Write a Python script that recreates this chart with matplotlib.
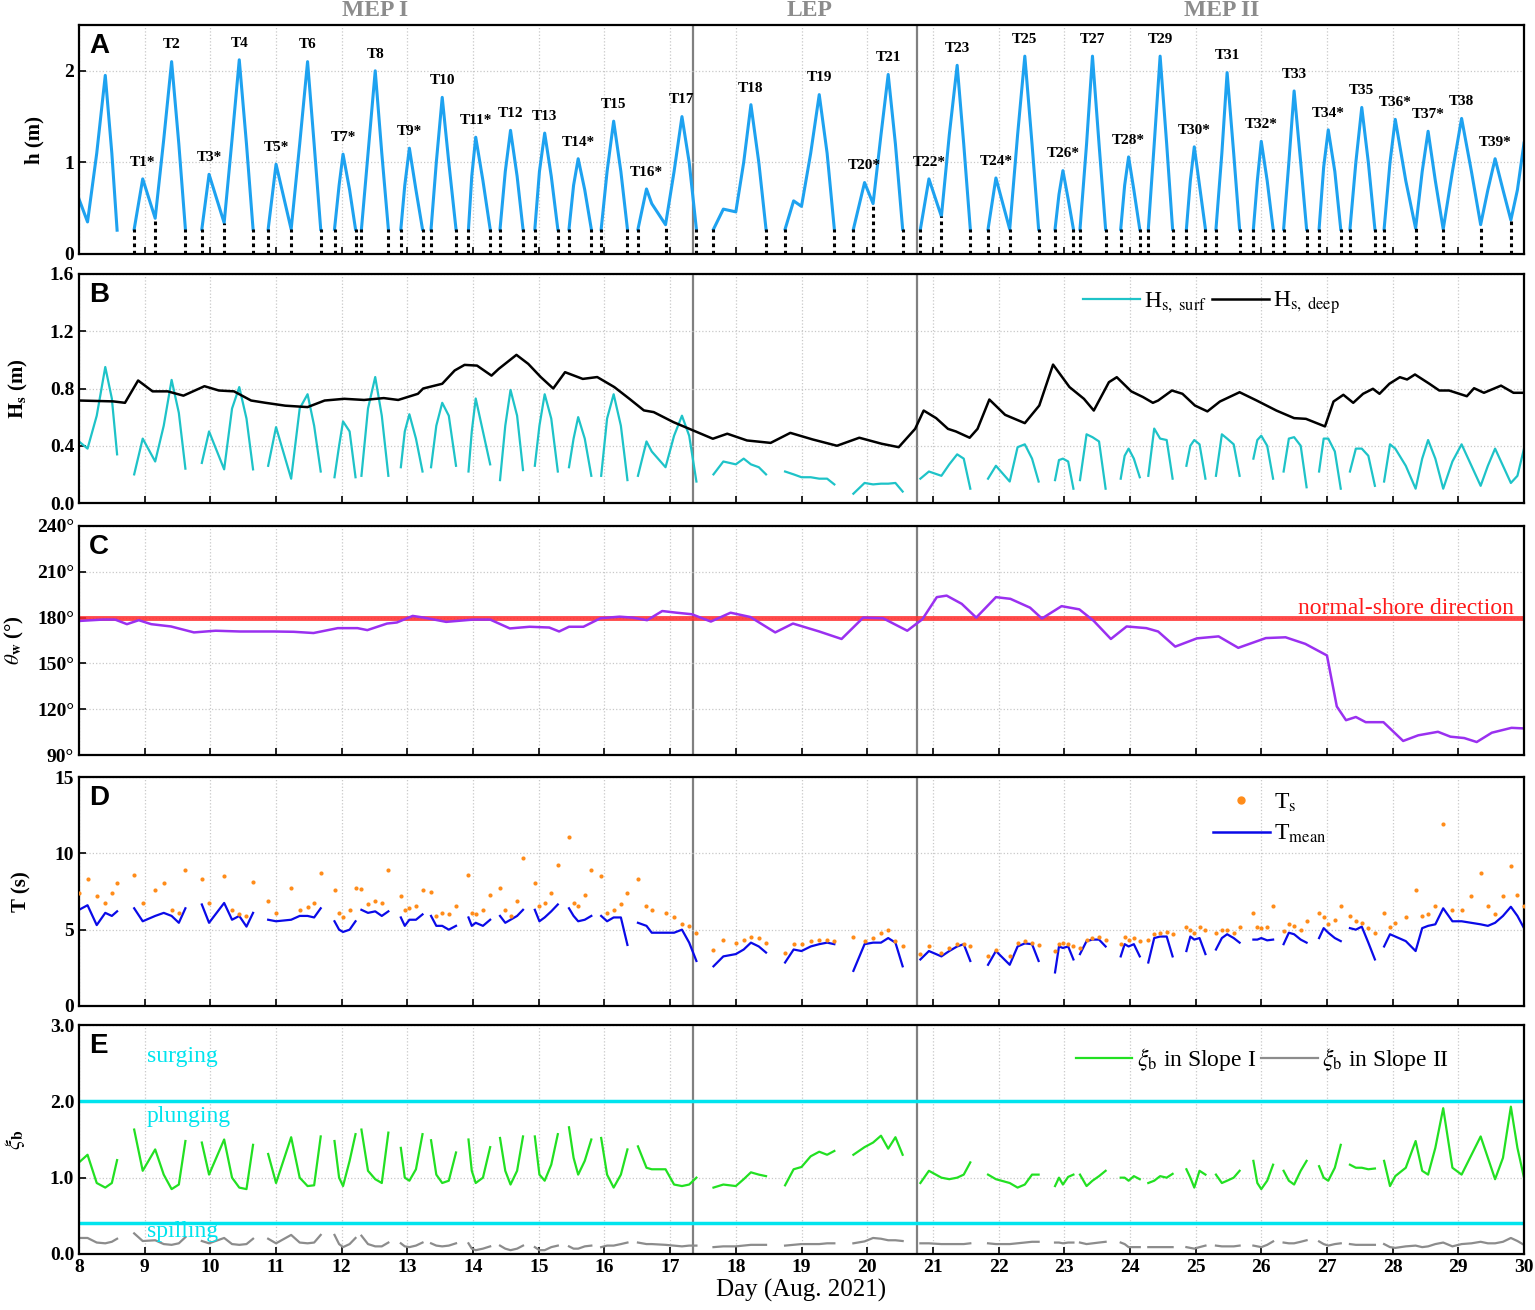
import numpy as np
import matplotlib
matplotlib.use('Agg')
import matplotlib.pyplot as plt
from matplotlib.lines import Line2D

plt.rcParams['font.family'] = ['Liberation Serif', 'DejaVu Serif']
plt.rcParams['mathtext.fontset'] = 'stix'

# ---- data (one inner list per submerged window) ----
win_t = [
    [8.00, 8.13, 8.27, 8.40, 8.50, 8.58],
    [8.84, 8.97, 9.16, 9.29, 9.41, 9.52, 9.62],
    [9.87, 9.98, 10.21, 10.33, 10.44, 10.55, 10.65],
    [10.88, 11.00, 11.23, 11.36, 11.48, 11.58, 11.68],
    [11.89, 11.96, 12.02, 12.12, 12.21],
    [12.30, 12.40, 12.51, 12.61, 12.71],
    [12.90, 12.96, 13.03, 13.13, 13.23],
    [13.36, 13.44, 13.53, 13.63, 13.74],
    [13.93, 13.98, 14.04, 14.15, 14.26],
    [14.41, 14.49, 14.57, 14.67, 14.76],
    [14.94, 15.01, 15.09, 15.19, 15.29],
    [15.46, 15.53, 15.60, 15.70, 15.80],
    [15.95, 16.04, 16.14, 16.25, 16.35],
    [16.51, 16.64, 16.72, 16.93, 17.06, 17.18, 17.29, 17.40],
    [17.66, 17.81, 18.00, 18.12, 18.23, 18.35, 18.46],
    [18.75, 18.88, 19.00, 19.14, 19.27, 19.39, 19.50],
    [19.79, 19.96, 20.09, 20.21, 20.32, 20.43, 20.54],
    [20.81, 20.94, 21.13, 21.25, 21.37, 21.47, 21.57],
    [21.84, 21.96, 22.17, 22.29, 22.40, 22.51, 22.61],
    [22.86, 22.92, 22.98, 23.06, 23.14],
    [23.24, 23.34, 23.43, 23.53, 23.63],
    [23.86, 23.92, 23.98, 24.06, 24.15],
    [24.28, 24.37, 24.46, 24.56, 24.65],
    [24.86, 24.92, 24.98, 25.06, 25.15],
    [25.31, 25.40, 25.48, 25.58, 25.67],
    [25.88, 25.94, 26.00, 26.09, 26.18],
    [26.34, 26.42, 26.50, 26.60, 26.69],
    [26.88, 26.95, 27.02, 27.12, 27.21],
    [27.35, 27.44, 27.53, 27.63, 27.73],
    [27.87, 27.96, 28.04, 28.20, 28.35, 28.45, 28.54, 28.65, 28.77, 28.91,
     29.05, 29.20, 29.34, 29.45, 29.56, 29.68, 29.80, 29.90, 30.00],
]

# water depth h (m)
win_h = [
    [0.60, 0.35, 1.10, 1.95, 1.10, 0.26],
    [0.27, 0.82, 0.39, 1.25, 2.10, 1.20, 0.27],
    [0.27, 0.87, 0.34, 1.25, 2.12, 1.20, 0.27],
    [0.27, 0.98, 0.27, 1.20, 2.10, 1.20, 0.27],
    [0.27, 0.75, 1.09, 0.70, 0.27],
    [0.27, 1.10, 2.00, 1.10, 0.27],
    [0.27, 0.75, 1.155, 0.70, 0.27],
    [0.27, 1.00, 1.71, 1.00, 0.27],
    [0.27, 0.85, 1.275, 0.80, 0.27],
    [0.27, 0.90, 1.35, 0.85, 0.27],
    [0.27, 0.90, 1.32, 0.85, 0.27],
    [0.27, 0.75, 1.04, 0.70, 0.27],
    [0.27, 0.90, 1.45, 0.90, 0.27],
    [0.27, 0.71, 0.55, 0.32, 0.90, 1.50, 1.00, 0.27],
    [0.27, 0.49, 0.46, 1.00, 1.63, 1.00, 0.27],
    [0.27, 0.58, 0.52, 1.10, 1.74, 1.10, 0.27],
    [0.27, 0.78, 0.55, 1.30, 1.96, 1.20, 0.27],
    [0.27, 0.82, 0.41, 1.30, 2.06, 1.20, 0.27],
    [0.27, 0.83, 0.27, 1.30, 2.16, 1.20, 0.27],
    [0.27, 0.65, 0.91, 0.60, 0.27],
    [0.27, 1.20, 2.16, 1.20, 0.27],
    [0.27, 0.75, 1.06, 0.70, 0.27],
    [0.27, 1.20, 2.16, 1.20, 0.27],
    [0.27, 0.80, 1.17, 0.75, 0.27],
    [0.27, 1.10, 1.98, 1.10, 0.27],
    [0.27, 0.80, 1.23, 0.80, 0.27],
    [0.27, 1.00, 1.78, 1.00, 0.27],
    [0.27, 0.95, 1.355, 0.90, 0.27],
    [0.27, 1.00, 1.60, 1.00, 0.27],
    [0.27, 1.00, 1.47, 0.80, 0.28, 0.90, 1.34, 0.80, 0.27, 0.90,
     1.48, 0.90, 0.32, 0.70, 1.04, 0.70, 0.37, 0.70, 1.21],
]

# Hs in the surf zone (m)
win_hs = [
    [0.43, 0.38, 0.61, 0.95, 0.73, 0.34],
    [0.20, 0.45, 0.29, 0.54, 0.86, 0.63, 0.24],
    [0.28, 0.50, 0.235, 0.66, 0.81, 0.59, 0.235],
    [0.26, 0.53, 0.17, 0.66, 0.76, 0.54, 0.22],
    [0.18, 0.40, 0.57, 0.50, 0.18],
    [0.19, 0.66, 0.88, 0.61, 0.19],
    [0.25, 0.50, 0.62, 0.45, 0.22],
    [0.25, 0.54, 0.70, 0.61, 0.26],
    [0.22, 0.50, 0.73, 0.50, 0.27],
    [0.16, 0.54, 0.79, 0.61, 0.23],
    [0.26, 0.54, 0.76, 0.59, 0.22],
    [0.25, 0.45, 0.60, 0.45, 0.19],
    [0.19, 0.59, 0.76, 0.54, 0.16],
    [0.19, 0.43, 0.36, 0.25, 0.47, 0.61, 0.47, 0.15],
    [0.20, 0.29, 0.27, 0.31, 0.27, 0.25, 0.20],
    [0.22, 0.20, 0.18, 0.18, 0.17, 0.17, 0.13],
    [0.065, 0.14, 0.13, 0.135, 0.135, 0.14, 0.08],
    [0.17, 0.22, 0.19, 0.27, 0.34, 0.31, 0.10],
    [0.17, 0.26, 0.15, 0.39, 0.41, 0.31, 0.15],
    [0.16, 0.30, 0.31, 0.29, 0.10],
    [0.16, 0.48, 0.46, 0.43, 0.10],
    [0.17, 0.33, 0.38, 0.31, 0.18],
    [0.19, 0.52, 0.45, 0.44, 0.17],
    [0.26, 0.40, 0.44, 0.41, 0.17],
    [0.19, 0.48, 0.45, 0.41, 0.19],
    [0.31, 0.44, 0.47, 0.40, 0.17],
    [0.22, 0.45, 0.46, 0.40, 0.11],
    [0.22, 0.45, 0.45, 0.36, 0.10],
    [0.22, 0.38, 0.38, 0.33, 0.12],
    [0.15, 0.41, 0.38, 0.26, 0.10, 0.31, 0.44, 0.31, 0.10, 0.29,
     0.41, 0.26, 0.12, 0.26, 0.38, 0.26, 0.14, 0.19, 0.38],
]

# mean wave period (s)
win_tmean = [
    [6.3, 6.6, 5.3, 6.1, 5.9, 6.2],
    [6.4, 5.55, 5.9, 6.1, 5.9, 5.45, 6.4],
    [6.65, 5.45, 6.75, 5.65, 5.9, 5.2, 6.1],
    [5.65, 5.55, 5.65, 5.9, 5.9, 5.8, 6.4],
    [5.55, 5.0, 4.85, 5.0, 5.55],
    [6.3, 6.1, 6.2, 5.9, 6.2],
    [5.8, 5.25, 5.65, 5.65, 6.0],
    [5.9, 5.25, 5.25, 5.0, 5.25],
    [5.8, 5.25, 5.45, 5.25, 5.65],
    [5.9, 5.45, 5.65, 5.9, 6.3],
    [6.3, 5.55, 5.8, 6.2, 6.65],
    [6.4, 5.9, 5.55, 5.65, 5.9],
    [5.9, 5.55, 5.8, 5.8, 4.0],
    [5.45, 5.25, 4.8, 4.8, 4.8, 5.0, 4.15, 2.95],
    [2.6, 3.25, 3.4, 3.7, 4.15, 3.9, 3.5],
    [2.85, 3.7, 3.6, 3.9, 4.05, 4.15, 4.05],
    [2.3, 4.05, 4.15, 4.15, 4.45, 4.15, 2.6],
    [3.05, 3.6, 3.25, 3.6, 3.9, 4.05, 2.95],
    [2.7, 3.6, 2.7, 3.9, 4.1, 4.05, 2.95],
    [2.2, 3.9, 3.8, 3.9, 3.05],
    [3.4, 4.25, 4.35, 4.35, 3.9],
    [3.25, 4.05, 3.9, 4.05, 3.25],
    [2.85, 4.45, 4.55, 4.55, 3.25],
    [3.6, 4.55, 4.35, 4.45, 3.4],
    [3.7, 4.45, 4.7, 4.45, 4.15],
    [4.35, 4.35, 4.45, 4.3, 4.35],
    [4.05, 4.8, 4.7, 4.35, 4.15],
    [4.45, 5.1, 4.8, 4.45, 4.25],
    [5.1, 5.0, 5.2, 4.15, 3.05],
    [3.9, 4.7, 4.55, 4.25, 3.6, 5.1, 5.25, 5.35, 6.4, 5.55,
     5.55, 5.45, 5.35, 5.25, 5.45, 5.9, 6.5, 5.9, 5.1],
]

# significant wave period (s)
win_ts = [
    [7.4, 8.3, 7.2, 6.75, 7.4, 8.05],
    [8.55, 6.75, 7.6, 8.05, 6.3, 6.1, 8.9],
    [8.3, 6.75, 8.5, 6.3, 6.0, 5.9, 8.15],
    [6.85, 6.1, 7.7, 6.3, 6.5, 6.75, 8.7],
    [7.6, 6.1, 5.8, 6.3, 7.7],
    [7.65, 6.65, 6.85, 6.75, 8.9],
    [7.2, 6.3, 6.4, 6.55, 7.6],
    [7.5, 5.9, 6.1, 6.0, 6.55],
    [8.6, 6.1, 6.0, 6.3, 7.3],
    [7.7, 6.3, 5.9, 6.85, 9.7],
    [8.05, 6.55, 6.75, 7.4, 9.25],
    [11.1, 6.75, 6.55, 7.3, 8.9],
    [8.5, 6.1, 6.3, 6.65, 7.4],
    [8.3, 6.55, 6.3, 6.1, 5.8, 5.35, 5.25, 4.8],
    [3.7, 4.3, 4.15, 4.35, 4.55, 4.45, 4.15],
    [3.45, 4.05, 4.05, 4.25, 4.3, 4.35, 4.25],
    [4.55, 4.25, 4.45, 4.8, 5.0, 4.25, 3.9],
    [3.4, 3.9, 3.5, 3.8, 4.05, 4.05, 3.9],
    [3.25, 3.7, 3.25, 4.15, 4.25, 4.15, 4.0],
    [3.6, 4.05, 4.15, 4.05, 3.9],
    [3.8, 4.35, 4.45, 4.5, 4.35],
    [4.05, 4.55, 4.35, 4.45, 4.25],
    [4.35, 4.7, 4.8, 4.85, 4.7],
    [5.2, 5.0, 4.8, 5.2, 5.0],
    [4.8, 5.0, 4.95, 4.8, 5.2],
    [6.1, 5.2, 5.1, 5.2, 6.55],
    [4.9, 5.35, 5.25, 5.0, 5.55],
    [6.1, 5.8, 5.35, 5.65, 6.55],
    [5.9, 5.55, 5.45, 5.1, 4.8],
    [6.1, 5.2, 5.45, 5.8, 7.6, 5.9, 6.0, 6.55, 11.9, 6.3,
     6.3, 7.2, 8.7, 6.55, 6.0, 7.2, 9.15, 7.3, 6.55],
]

# surf similarity parameter, slope I and slope II
win_xi1 = [
    [1.20, 1.30, 0.93, 0.87, 0.93, 1.23],
    [1.63, 1.09, 1.37, 1.04, 0.85, 0.91, 1.48],
    [1.46, 1.04, 1.50, 1.00, 0.87, 0.85, 1.43],
    [1.31, 0.93, 1.53, 1.00, 0.89, 0.90, 1.54],
    [1.48, 1.00, 0.89, 1.22, 1.57],
    [1.63, 1.09, 0.98, 0.93, 1.59],
    [1.39, 1.00, 0.96, 1.11, 1.57],
    [1.49, 1.04, 0.93, 0.96, 1.33],
    [1.50, 1.09, 0.93, 1.00, 1.40],
    [1.52, 1.09, 0.91, 1.09, 1.54],
    [1.54, 1.04, 0.96, 1.17, 1.57],
    [1.66, 1.26, 1.04, 1.22, 1.50],
    [1.52, 1.04, 0.87, 1.04, 1.37],
    [1.41, 1.13, 1.11, 1.11, 0.91, 0.89, 0.91, 1.00],
    [0.87, 0.91, 0.89, 0.98, 1.07, 1.04, 1.02],
    [0.90, 1.11, 1.14, 1.28, 1.34, 1.30, 1.35],
    [1.30, 1.40, 1.46, 1.55, 1.38, 1.53, 1.30],
    [0.93, 1.09, 1.00, 0.98, 1.00, 1.04, 1.20],
    [1.04, 0.98, 0.93, 0.87, 0.91, 1.04, 1.04],
    [0.89, 1.00, 0.91, 1.01, 1.04],
    [1.04, 0.89, 0.96, 1.02, 1.09],
    [1.00, 1.00, 0.96, 1.02, 0.98],
    [0.93, 0.96, 1.02, 1.00, 1.05],
    [1.11, 1.00, 0.87, 1.09, 1.04],
    [1.04, 0.93, 0.96, 1.00, 1.09],
    [1.22, 0.93, 0.85, 0.96, 1.17],
    [1.09, 0.96, 0.91, 1.09, 1.22],
    [1.15, 1.00, 0.96, 1.13, 1.43],
    [1.17, 1.13, 1.13, 1.11, 1.12],
    [1.22, 0.89, 1.02, 1.13, 1.48, 1.09, 1.04, 1.39, 1.91, 1.13,
     1.04, 1.30, 1.54, 1.26, 0.98, 1.26, 1.93, 1.39, 1.00],
]

win_xi2 = [
    [0.21, 0.21, 0.15, 0.14, 0.16, 0.20],
    [0.27, 0.17, 0.18, 0.13, 0.12, 0.14, 0.22],
    [0.17, 0.14, 0.21, 0.13, 0.12, 0.13, 0.20],
    [0.20, 0.14, 0.25, 0.15, 0.14, 0.15, 0.25],
    [0.25, 0.13, 0.09, 0.13, 0.21],
    [0.24, 0.13, 0.10, 0.10, 0.15],
    [0.14, 0.10, 0.09, 0.11, 0.15],
    [0.14, 0.11, 0.10, 0.11, 0.14],
    [0.14, 0.07, 0.05, 0.07, 0.10],
    [0.11, 0.07, 0.05, 0.07, 0.11],
    [0.09, 0.05, 0.05, 0.09, 0.11],
    [0.10, 0.07, 0.07, 0.10, 0.11],
    [0.09, 0.11, 0.11, 0.13, 0.15],
    [0.15, 0.13, 0.13, 0.12, 0.11, 0.10, 0.11, 0.11],
    [0.09, 0.10, 0.10, 0.11, 0.12, 0.12, 0.12],
    [0.11, 0.12, 0.13, 0.13, 0.13, 0.14, 0.14],
    [0.14, 0.165, 0.21, 0.20, 0.18, 0.18, 0.17],
    [0.14, 0.14, 0.13, 0.13, 0.13, 0.13, 0.14],
    [0.14, 0.13, 0.13, 0.14, 0.15, 0.16, 0.16],
    [0.15, 0.15, 0.14, 0.15, 0.15],
    [0.15, 0.13, 0.14, 0.15, 0.16],
    [0.15, 0.13, 0.09, 0.09, 0.09],
    [0.09, 0.09, 0.09, 0.09, 0.09],
    [0.09, 0.08, 0.07, 0.09, 0.11],
    [0.11, 0.10, 0.10, 0.10, 0.11],
    [0.11, 0.10, 0.09, 0.12, 0.165],
    [0.15, 0.14, 0.14, 0.16, 0.18],
    [0.165, 0.13, 0.11, 0.13, 0.14],
    [0.13, 0.12, 0.12, 0.12, 0.12],
    [0.13, 0.09, 0.08, 0.10, 0.11, 0.09, 0.10, 0.13, 0.15, 0.10,
     0.13, 0.14, 0.16, 0.14, 0.14, 0.16, 0.21, 0.17, 0.12],
]

# tide separators (dotted lines) and tide names
cut_t = [8.84, 9.16, 9.62, 9.87, 10.21, 10.65, 10.88, 11.23, 11.68, 11.89,
         12.21, 12.30, 12.71, 12.90, 13.23, 13.36, 13.74, 13.93, 14.26, 14.41,
         14.76, 14.94, 15.29, 15.46, 15.80, 15.95, 16.35, 16.51, 16.93, 17.40,
         17.66, 18.46, 18.75, 19.50, 19.79, 20.09, 20.54, 20.81, 21.13, 21.57,
         21.84, 22.17, 22.61, 22.86, 23.14, 23.24, 23.63, 23.86, 24.15, 24.28,
         24.65, 24.86, 25.15, 25.31, 25.67, 25.88, 26.18, 26.34, 26.69, 26.88,
         27.21, 27.35, 27.73, 27.87, 28.35, 28.77, 29.34, 29.80]
cut_h = [0.27, 0.39, 0.27, 0.27, 0.34, 0.27, 0.27, 0.27, 0.27, 0.27,
         0.27, 0.27, 0.27, 0.27, 0.27, 0.27, 0.27, 0.27, 0.27, 0.27,
         0.27, 0.27, 0.27, 0.27, 0.27, 0.27, 0.27, 0.27, 0.32, 0.27,
         0.27, 0.27, 0.27, 0.27, 0.27, 0.55, 0.27, 0.27, 0.41, 0.27,
         0.27, 0.27, 0.27, 0.27, 0.27, 0.27, 0.27, 0.27, 0.27, 0.27,
         0.27, 0.27, 0.27, 0.27, 0.27, 0.27, 0.27, 0.27, 0.27, 0.27,
         0.27, 0.27, 0.27, 0.27, 0.28, 0.27, 0.32, 0.37]

tide_names = ['T1*', 'T2', 'T3*', 'T4', 'T5*', 'T6', 'T7*', 'T8', 'T9*', 'T10',
              'T11*', 'T12', 'T13', 'T14*', 'T15', 'T16*', 'T17', 'T18', 'T19',
              'T20*', 'T21', 'T22*', 'T23', 'T24*', 'T25', 'T26*', 'T27', 'T28*',
              'T29', 'T30*', 'T31', 'T32*', 'T33', 'T34*', 'T35', 'T36*', 'T37*',
              'T38', 'T39*']
tide_peak_t = [8.97, 9.41, 9.98, 10.44, 11.00, 11.48, 12.02, 12.51, 13.03, 13.53,
               14.04, 14.57, 15.09, 15.60, 16.14, 16.64, 17.18, 18.23, 19.27,
               19.96, 20.32, 20.94, 21.37, 21.96, 22.40, 22.98, 23.43, 23.98,
               24.46, 24.98, 25.48, 26.00, 26.50, 27.02, 27.53, 28.04, 28.54,
               29.05, 29.56]
tide_peak_h = [0.82, 2.10, 0.87, 2.12, 0.98, 2.10, 1.09, 2.00, 1.155, 1.71,
               1.275, 1.35, 1.32, 1.04, 1.45, 0.71, 1.50, 1.63, 1.74,
               0.78, 1.96, 0.82, 2.06, 0.83, 2.16, 0.91, 2.16, 1.06,
               2.16, 1.17, 1.98, 1.23, 1.78, 1.355, 1.60, 1.47, 1.34,
               1.48, 1.04]

# offshore Hs (continuous)
deep_t = [8.00, 8.52, 8.70, 8.90, 9.12, 9.35, 9.59, 9.91, 10.13, 10.36, 10.62,
          10.84, 11.14, 11.48, 11.74, 12.04, 12.34, 12.64, 12.86, 13.16, 13.24,
          13.53, 13.72, 13.87, 14.06, 14.28, 14.39, 14.66, 14.84, 15.03, 15.22,
          15.40, 15.67, 15.89, 16.15, 16.38, 16.60, 16.75, 17.05, 17.35, 17.65,
          17.87, 18.17, 18.53, 18.83, 19.17, 19.54, 19.88, 20.22, 20.48, 20.73,
          20.86, 21.05, 21.23, 21.35, 21.56, 21.68, 21.86, 22.10, 22.40, 22.62,
          22.83, 23.08, 23.30, 23.45, 23.68, 23.80, 24.02, 24.20, 24.35, 24.43,
          24.64, 24.80, 24.99, 25.18, 25.37, 25.67, 25.93, 26.23, 26.50, 26.68,
          26.97, 27.10, 27.25, 27.40, 27.55, 27.70, 27.80, 27.95, 28.11, 28.22,
          28.34, 28.56, 28.71, 28.86, 29.13, 29.24, 29.39, 29.65, 29.84, 30.00]
deep_hs = [0.716, 0.71, 0.70, 0.856, 0.78, 0.78, 0.75, 0.816, 0.786, 0.78, 0.716,
           0.70, 0.68, 0.67, 0.716, 0.728, 0.72, 0.733, 0.72, 0.763, 0.80,
           0.833, 0.926, 0.965, 0.96, 0.89, 0.937, 1.035, 0.972, 0.88, 0.80,
           0.914, 0.867, 0.88, 0.81, 0.728, 0.647, 0.635, 0.565, 0.507, 0.449,
           0.484, 0.437, 0.42, 0.49, 0.444, 0.40, 0.456, 0.414, 0.39, 0.518,
           0.646, 0.593, 0.518, 0.50, 0.456, 0.518, 0.723, 0.616, 0.558, 0.681,
           0.967, 0.81, 0.728, 0.646, 0.844, 0.879, 0.78, 0.74, 0.70, 0.716,
           0.786, 0.763, 0.681, 0.64, 0.709, 0.774, 0.716, 0.646, 0.593, 0.588,
           0.535, 0.709, 0.756, 0.70, 0.763, 0.798, 0.763, 0.833, 0.879, 0.863,
           0.898, 0.833, 0.786, 0.786, 0.746, 0.802, 0.77, 0.82, 0.77, 0.77]

# wave direction (deg)
dir_t = [8.00, 8.36, 8.55, 8.73, 8.91, 9.10, 9.40, 9.75, 10.08, 10.45, 10.97,
         11.27, 11.57, 11.94, 12.24, 12.39, 12.69, 12.84, 13.08, 13.25, 13.59,
         14.00, 14.26, 14.56, 14.86, 15.16, 15.31, 15.46, 15.68, 15.94, 16.23,
         16.43, 16.65, 16.88, 17.10, 17.33, 17.62, 17.92, 18.22, 18.60, 18.87,
         19.27, 19.61, 19.94, 20.24, 20.61, 20.84, 21.06, 21.21, 21.44, 21.66,
         21.96, 22.18, 22.48, 22.66, 22.96, 23.23, 23.45, 23.71, 23.95, 24.25,
         24.43, 24.69, 25.02, 25.35, 25.65, 26.07, 26.37, 26.67, 27.00, 27.15,
         27.29, 27.44, 27.59, 27.86, 28.16, 28.39, 28.69, 28.88, 29.09, 29.28,
         29.51, 29.81, 30.00]
dir_deg = [177.8, 178.7, 178.7, 175.7, 178.3, 175.7, 174.2, 170.3, 171.4, 170.9,
           170.9, 170.7, 169.9, 173.1, 173.1, 171.8, 176.1, 176.8, 181.1, 180.0,
           177.2, 178.7, 178.7, 172.9, 174.0, 173.5, 170.9, 174.0, 174.0, 179.6,
           180.6, 180.0, 178.3, 184.3, 183.2, 182.2, 177.4, 183.2, 180.4, 170.3,
           176.1, 170.9, 166.0, 180.0, 179.6, 171.4, 178.9, 193.4, 194.4, 189.0,
           180.0, 193.4, 192.3, 186.5, 179.4, 187.5, 185.4, 177.8, 166.0, 174.2,
           173.1, 170.9, 161.0, 166.4, 167.7, 160.2, 166.6, 167.1, 162.8, 155.2,
           121.8, 112.8, 114.9, 111.5, 111.5, 99.2, 102.9, 105.2, 102.0, 101.1,
           98.5, 104.6, 107.8, 107.4]

phase_split = [17.35, 20.76]
phase_names = ['MEP I', 'LEP', 'MEP II']
phase_mid = [12.5, 19.13, 25.4]


def join(wins):
    out = []
    for w in wins:
        out.extend(w)
        out.append(np.nan)
    return np.array(out[:-1])


t_all = join(win_t)

fig = plt.figure(figsize=(15.35, 13.10), dpi=100)
W, H = 1535.0, 1310.0
left = 79 / W
width = (1524 - 79) / W
tops = [25, 274, 526, 777, 1025]
axes = []
for top in tops:
    axes.append(fig.add_axes([left, 1 - (top + 229) / H, width, 229 / H]))
axA, axB, axC, axD, axE = axes

for ax in axes:
    ax.set_xlim(8, 30)
    ax.set_xticks(range(8, 31))
    ax.grid(True, color='#c8c8c8', linestyle=':', linewidth=0.9)
    ax.tick_params(direction='in', length=5, width=1.2, labelsize=14)
    for s in ax.spines.values():
        s.set_linewidth(1.6)
    for x in phase_split:
        ax.axvline(x, color='#808080', lw=1.6, zorder=1)
    if ax is not axE:
        ax.set_xticklabels([])

# A: water depth
axA.plot(t_all, join(win_h), color='#1ea2f0', lw=2.2, solid_joinstyle='round')
axA.vlines(cut_t, 0, cut_h, colors='black', linestyles=(0, (1.2, 1.2)), lw=2.2)
for name, tx, hy in zip(tide_names, tide_peak_t, tide_peak_h):
    axA.annotate(name, (tx, hy), xytext=(0, 12), textcoords='offset points',
                 ha='center', va='center', fontsize=11, fontweight='bold')
axA.set_ylim(0, 2.5)
axA.set_yticks([0, 1, 2])
axA.set_ylabel('h (m)', fontsize=15, fontweight='bold')
axA.yaxis.set_label_coords(-0.024, 0.5)
for name, xm in zip(phase_names, phase_mid):
    fig.text(left + width * (xm - 8) / 22, 1 - 11 / H, name, ha='center',
             va='center', fontsize=17, fontweight='bold', color='#8c8c8c')

# B: wave height
axB.plot(t_all, join(win_hs), color='#1ec3c8', lw=1.6, label=r'H$_{\mathrm{s,\ surf}}$')
axB.plot(deep_t, deep_hs, color='black', lw=1.8, label=r'H$_{\mathrm{s,\ deep}}$')
axB.set_ylim(0, 1.6)
axB.set_yticks(np.arange(0, 1.61, 0.4))
axB.set_yticklabels(['%.1f' % v for v in np.arange(0, 1.61, 0.4)])
axB.set_ylabel(r'$\mathbf{H_s}$ (m)', fontsize=15, fontweight='bold')
axB.yaxis.set_label_coords(-0.034, 0.5)
axB.legend(loc='upper left', bbox_to_anchor=(0.68, 1.025), ncol=2, frameon=False,
           fontsize=17, handlelength=2.4, handletextpad=0.2, columnspacing=0.2)

# C: wave direction
axC.axhline(180, color='#ff2a2a', lw=3.5, alpha=0.85)
axC.plot(dir_t, dir_deg, color='#9a30f0', lw=1.8)
axC.text(29.85, 186, 'normal-shore direction', color='#ff1a1a', fontsize=17,
         ha='right', va='center')
axC.set_ylim(90, 240)
axC.set_yticks(range(90, 241, 30))
axC.set_yticklabels(['%d\u00b0' % v for v in range(90, 241, 30)])
axC.set_ylabel(r'$\theta_\mathbf{w}$' + ' (\u00b0)', fontsize=15, fontweight='bold')
axC.yaxis.set_label_coords(-0.037, 0.5)

# D: wave period
axD.scatter(t_all, join(win_ts), s=9, color='#ff8c1a', lw=0, zorder=3)
axD.plot(t_all, join(win_tmean), color='#0a0ae8', lw=1.6)
axD.set_ylim(0, 15)
axD.set_yticks([0, 5, 10, 15])
axD.set_ylabel('T (s)', fontsize=15, fontweight='bold')
axD.yaxis.set_label_coords(-0.033, 0.5)
hD = [Line2D([], [], ls='', marker='o', ms=5, color='#ff8c1a'),
      Line2D([], [], color='#0a0ae8', lw=1.8)]
axD.legend(hD, [r'T$_\mathrm{s}$', r'T$_\mathrm{mean}$'], loc='upper left',
           bbox_to_anchor=(0.77, 1.03), frameon=False, fontsize=17,
           handlelength=2.4, handletextpad=0.2, labelspacing=0.4)

# E: surf similarity
axE.axhline(2.0, color='#00e4ee', lw=2.5)
axE.axhline(0.4, color='#00e4ee', lw=2.5)
axE.plot(t_all, join(win_xi1), color='#22e022', lw=1.6, label=r'$\xi_\mathrm{b}$ in Slope I')
axE.plot(t_all, join(win_xi2), color='#8c8c8c', lw=1.6, label=r'$\xi_\mathrm{b}$ in Slope II')
for txt, yv in [('surging', 2.59), ('plunging', 1.80), ('spilling', 0.29)]:
    axE.text(9.03, yv, txt, color='#00e4ee', fontsize=17, ha='left', va='center')
axE.set_ylim(0, 3)
axE.set_yticks([0, 1, 2, 3])
axE.set_yticklabels(['0.0', '1.0', '2.0', '3.0'])
axE.set_ylabel(r'$\xi_\mathbf{b}$', fontsize=16)
axE.yaxis.set_label_coords(-0.036, 0.5)
axE.set_xlabel('Day (Aug. 2021)', fontsize=18, labelpad=2)
axE.legend(loc='upper left', bbox_to_anchor=(0.675, 1.0), ncol=2, frameon=False,
           fontsize=17, handlelength=2.4, handletextpad=0.2, columnspacing=0.2)

for ax in axes:
    for lab in ax.get_yticklabels() + ax.get_xticklabels():
        lab.set_fontweight('bold')

for ax, letter in zip(axes, 'ABCDE'):
    ax.text(0.007, 0.965, letter, transform=ax.transAxes, ha='left', va='top',
            fontsize=20, fontweight='bold', family='Liberation Sans')

fig.savefig('out.png', dpi=100)
